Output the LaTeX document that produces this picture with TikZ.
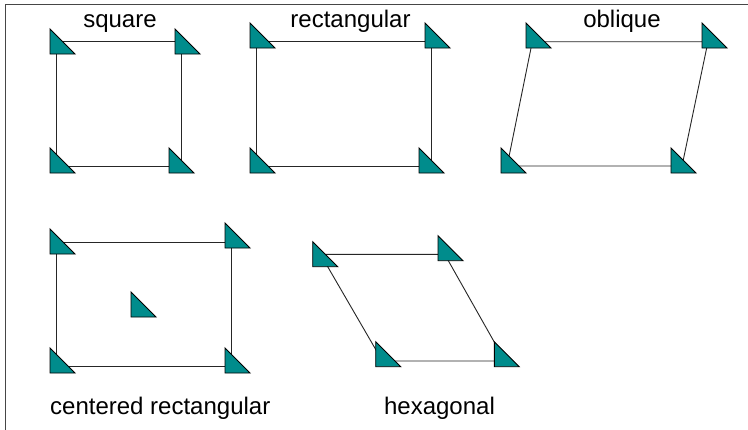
\documentclass[tikz,border=0pt]{standalone}
\usepackage{fontspec}
\setmainfont{Liberation Sans}
\definecolor{latfill}{RGB}{0,140,140}
\definecolor{framecol}{RGB}{70,70,70}
\tikzset{
  x=1pt, y=-1pt,
  latt/.pic={\filldraw[fill=latfill, draw=black, line width=0.9pt, line join=miter] (0,0) -- (0,25) -- (25,25) -- cycle;},
  edge/.style={draw=black!85, line width=0.9pt},
  lbl/.style={font=\fontsize{24}{28}\selectfont, inner sep=0pt, anchor=base},
}
\begin{document}
\begin{tikzpicture}
\useasboundingbox (0,0) rectangle (748,429);
\fill[white] (0,0) rectangle (748,429);
\draw[framecol, line width=1.5pt] (5.5,440) -- (5.5,4.5) -- (760,4.5);

% lattice points
\coordinate (sqTL) at (56,41.7);   \coordinate (sqTR) at (181.7,41.7);
\coordinate (sqBL) at (56,166);    \coordinate (sqBR) at (181.7,166);
\coordinate (reTL) at (256.7,41.7); \coordinate (reTR) at (431.7,41.7);
\coordinate (reBL) at (256.7,166);  \coordinate (reBR) at (431.7,166);
\coordinate (obTL) at (532.3,41.7); \coordinate (obTR) at (708,41.7);
\coordinate (obBL) at (507.1,166);  \coordinate (obBR) at (682,166);
\coordinate (ceTL) at (56,242.3);   \coordinate (ceTR) at (231.7,242.3);
\coordinate (ceBL) at (56,366.7);   \coordinate (ceBR) at (231.7,366.7);
\coordinate (hxTL) at (320.5,254.3); \coordinate (hxTR) at (444.7,254.3);
\coordinate (hxBL) at (382.4,361);   \coordinate (hxBR) at (505,361);

% cell edges
\draw[edge] (sqTL) -- (sqTR) -- (sqBR) -- (sqBL) -- cycle;
\draw[edge] (reTL) -- (reTR) -- (reBR) -- (reBL) -- cycle;
\draw[edge] (obTL) -- (obTR) -- (obBR) -- (obBL) -- cycle;
\draw[edge] (ceTL) -- (ceTR) -- (ceBR) -- (ceBL) -- cycle;
\draw[edge] (hxTL) -- (hxTR) -- (hxBR) -- (hxBL) -- cycle;

% lattice markers
\pic at (50,29) {latt};  \pic at (175,29) {latt};
\pic at (50,148) {latt}; \pic at (169,148) {latt};
\pic at (250,23) {latt}; \pic at (425,23) {latt};
\pic at (250,148) {latt}; \pic at (419,148) {latt};
\pic at (526,23) {latt}; \pic at (702,23) {latt};
\pic at (501,148) {latt}; \pic at (671,148) {latt};
\pic at (50,229) {latt}; \pic at (225,223) {latt};
\pic at (50,348) {latt}; \pic at (225,348) {latt};
\pic at (131,292) {latt};
\pic at (312.7,241.7) {latt}; \pic at (438,235.7) {latt};
\pic at (375.7,341.7) {latt}; \pic at (494.3,341.7) {latt};

% labels
\node[lbl] (lsq) at (120,27.3) {square};
\node[lbl] (lre) at (350.5,27.3) {rectangular};
\node[lbl] (lob) at (622,27.3) {oblique};
\node[lbl, anchor=base west] (lce) at (50,414) {centered rectangular};
\node[lbl] (lhx) at (439.5,414) {hexagonal};
\end{tikzpicture}
\end{document}
